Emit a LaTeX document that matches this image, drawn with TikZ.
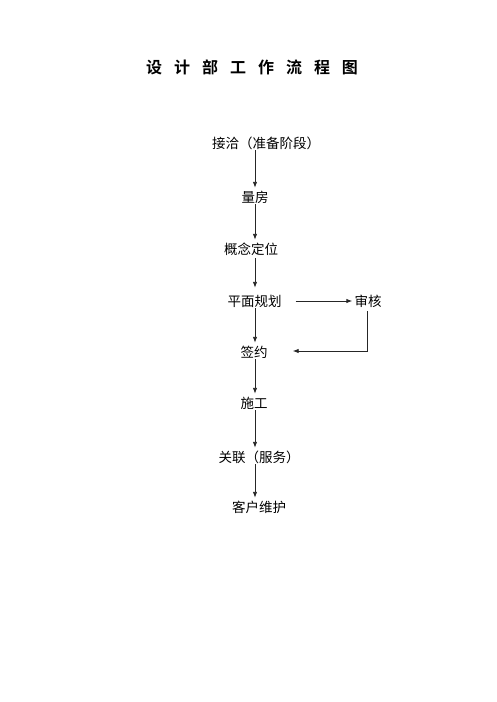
\documentclass[tikz,border=0pt]{standalone}
\usepackage{fontspec}
\newfontfamily\cjk{Noto Sans CJK SC}
\newfontfamily\cjkb{Noto Sans CJK SC Bold}
\usetikzlibrary{arrows.meta}
\tikzset{
  stepnode/.style={font=\cjk\fontsize{13.5}{14}\selectfont, inner sep=0pt, minimum height=14pt},
  flow/.style={draw=black!85, line width=0.9pt, -{Latex[length=6pt,width=4.5pt]}}
}
\begin{document}
\begin{tikzpicture}[x=1pt,y=-1pt]
\useasboundingbox (0,0) rectangle (496,702);
\node[font=\cjkb\fontsize{16}{18}\selectfont, inner sep=0pt] (title) at (252,67)
  {设\hspace{12pt}计\hspace{12pt}部\hspace{12pt}工\hspace{12pt}作\hspace{12pt}流\hspace{12pt}程\hspace{12pt}图};
\coordinate (axis) at (255,0);
\node[stepnode] (n1) at (266,143) {接洽（准备阶段）};
\node[stepnode] (n2) at (255,197) {量房};
\node[stepnode] (n3) at (251,249) {概念定位};
\node[stepnode] (n4) at (254.5,301) {平面规划};
\node[stepnode] (n5) at (368,301) {审核};
\node[stepnode] (n6) at (254,352) {签约};
\node[stepnode] (n7) at (254,403) {施工};
\node[stepnode] (n8) at (259,457) {关联（服务）};
\node[stepnode] (n9) at (259,507) {客户维护};
\coordinate (corner) at (367,351);

\draw[flow, shorten >=2pt] (n1.south -| axis) -- (n2.north -| axis);
\draw[flow, shorten >=2pt] (n2.south -| axis) -- (n3.north -| axis);
\draw[flow, shorten <=2pt, shorten >=6pt] (n3.south -| axis) -- (n4.north -| axis);
\draw[flow, shorten >=2pt] (n4.south -| axis) -- (n6.north -| axis);
\draw[flow, shorten >=2pt] (n6.south -| axis) -- (n7.north -| axis);
\draw[flow, shorten >=2pt] (n7.south -| axis) -- (n8.north -| axis);
\draw[flow, shorten >=2pt] (n8.south -| axis) -- (n9.north -| axis);
\draw[flow] ([xshift=14pt]n4.east) -- ([xshift=-2pt]n5.west);
\draw[flow] ([yshift=-3pt]n5.south -| corner) -- (corner) -- ([xshift=25pt]n6.east |- corner);
\end{tikzpicture}
\end{document}
